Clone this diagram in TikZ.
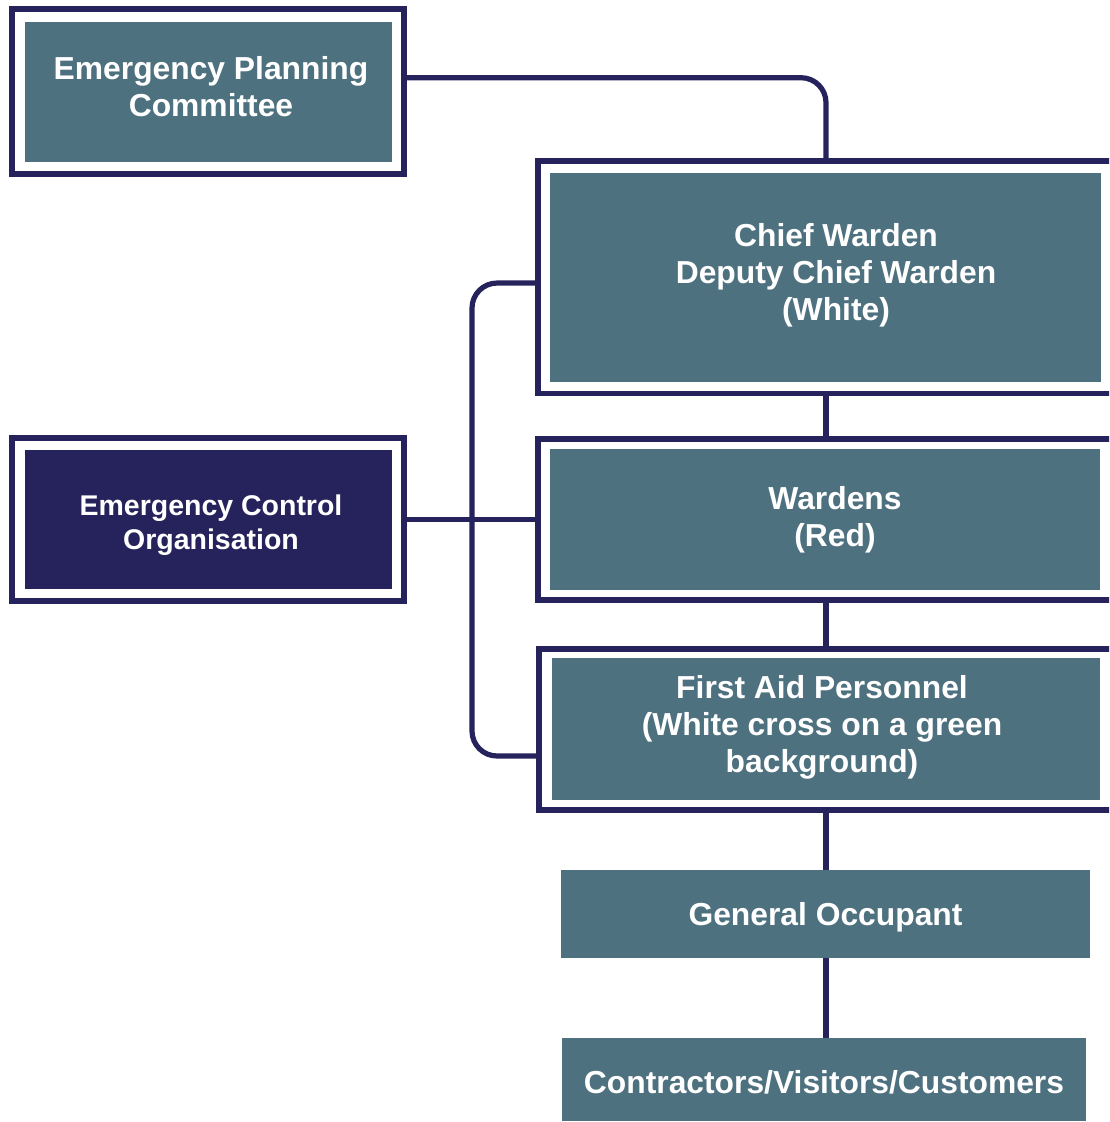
\documentclass[tikz,border=0pt]{standalone}
\usepackage{fontspec}
\setmainfont{Liberation Sans}
\usetikzlibrary{positioning}

\definecolor{ecoNavy}{RGB}{38,34,92}
\definecolor{ecoTeal}{RGB}{78,113,128}

\tikzset{
    outerframe/.style={draw=ecoNavy, line width=2.8pt, inner sep=0pt},
    fillbox/.style={fill=ecoTeal, inner sep=0pt},
    lbl/.style={text=white, align=center, font=\fontsize{15.9}{18.5}\selectfont\bfseries},
    wire/.style={draw=ecoNavy, line width=2.6pt},
}

\begin{document}
\begin{tikzpicture}[x=0.5pt, y=-0.5pt]
    \useasboundingbox (0,0) rectangle (1109,1122);
    \clip (0,0) rectangle (1109,1122);

    % Draw frames
    \node[outerframe, minimum width=196pt, minimum height=82.5pt] (epcFrame) at (208,91.5) {};
    \node[outerframe, minimum width=293.5pt, minimum height=116.25pt] (chiefFrame) at (831.5,277.25) {};
    \node[outerframe, minimum width=196pt, minimum height=81.5pt] (ecoFrame) at (208,519.5) {};
    \node[outerframe, minimum width=293.5pt, minimum height=80.5pt] (wardFrame) at (831.5,519.5) {};
    \node[outerframe, minimum width=293pt, minimum height=80.5pt] (aidFrame) at (832,729.5) {};

    % Draw boxes
    \node[fillbox, minimum width=183.5pt, minimum height=70pt] (epc) at (208.5,92) {};
    \node[fillbox, minimum width=275.3pt, minimum height=104.5pt] (chief) at (825.3,277.5) {};
    \node[fillbox, fill=ecoNavy, minimum width=183.5pt, minimum height=69.5pt] (eco) at (208.5,519.5) {};
    \node[fillbox, minimum width=275pt, minimum height=70.5pt] (ward) at (825,519.5) {};
    \node[fillbox, minimum width=274pt, minimum height=71pt] (aid) at (826,729) {};
    \node[fillbox, lbl, text height=14.6pt, text depth=3.3pt, minimum width=264.5pt, minimum height=44pt] (occupant) at (825.5,914) {General Occupant};
    \node[fillbox, lbl, text height=17.6pt, text depth=3.3pt, minimum width=262pt, minimum height=41.5pt] (visitors) at (824,1079.5) {Contractors/Visitors/Customers};

    % Labels
    \node[lbl] (epcText) at (211,87) {Emergency Planning\\Committee};
    \node[lbl] (chiefText) at (836,275) {Chief Warden\\Deputy Chief Warden\\(White)};
    \node[lbl, font=\fontsize{14.25}{17}\selectfont\bfseries] (ecoText) at (211,525) {Emergency Control\\Organisation};
    \node[lbl] (wardText) at (835,520) {Wardens\\(Red)};
    \node[lbl] (aidText) at (822,727) {First Aid Personnel\\(White cross on a green\\background)};

    % Draw connections
    \coordinate (spine) at (826,0);
    \coordinate (bend) at (472,756);
    \draw[wire, rounded corners=12.5pt] ([yshift=6.9pt]epcFrame.east) -| (spine |- chiefFrame.north);
    \draw[wire] (spine |- chiefFrame.south) -- (spine |- wardFrame.north);
    \draw[wire] (spine |- wardFrame.south) -- (spine |- aidFrame.north);
    \draw[wire] (spine |- aidFrame.south) -- (spine |- occupant.north);
    \draw[wire] (spine |- occupant.south) -- (spine |- visitors.north);
    \draw[wire] (ecoFrame.east) -- (wardFrame.west);
    \draw[wire, rounded corners=12.5pt] ([yshift=-2.9pt]chiefFrame.west) -| (bend) -- (bend -| aidFrame.west);
\end{tikzpicture}
\end{document}
